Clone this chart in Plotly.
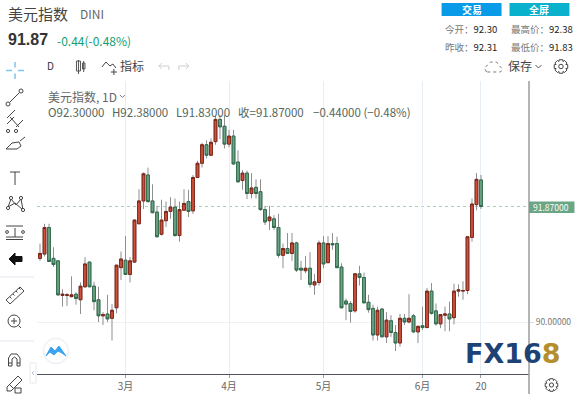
import math
import plotly.graph_objects as go

W, H = 575, 394
ML, MR, MT, MB = 37, 45.5, 81, 20
PW, PH = W - ML - MR, H - MT - MB

# ---- data ----
opens = [91.03,91.10,91.53,91.03,90.99,90.43,90.43,90.41,90.45,90.36,
         90.57,90.97,90.58,90.36,90.10,90.13,90.06,90.23,90.88,91.00,
         90.77,90.97,91.59,91.96,92.38,91.96,91.78,91.42,91.64,91.79,
         91.86,91.40,91.81,91.95,91.80,92.34,92.57,92.87,92.70,92.92,
         93.28,93.17,92.88,93.01,92.59,92.29,92.41,92.08,92.18,92.11,
         91.82,91.64,91.67,91.53,91.08,91.19,91.11,91.28,90.87,90.83,
         90.87,90.60,90.64,91.28,90.96,91.27,91.27,90.89,90.34,90.30,
         90.18,90.78,90.72,90.32,90.22,89.79,90.21,89.76,90.02,89.83,
         89.66,90.06,90.00,90.10,89.84,89.94,89.91,90.50,90.18,89.97,
         90.11,90.13,90.07,90.50,90.50,90.51,91.37,91.90,92.30]
highs = [91.27,91.59,91.59,91.21,90.99,90.53,90.47,90.74,90.48,90.64,
         91.05,90.97,90.65,90.57,90.16,90.44,90.29,90.92,91.14,91.39,
         91.05,91.66,92.15,92.42,92.50,92.23,91.88,91.98,91.95,92.02,
         92.00,91.95,92.15,92.14,92.38,92.61,92.90,92.94,92.97,93.34,
         93.35,93.35,93.11,93.11,92.78,92.46,92.45,92.41,92.31,92.31,
         91.88,91.88,91.73,91.75,91.27,91.44,91.44,91.30,90.99,91.07,
         91.13,90.78,91.32,91.39,91.39,91.44,91.38,90.95,90.38,90.34,
         90.79,90.91,90.80,90.44,90.28,90.25,90.22,90.16,90.11,89.95,
         90.13,90.13,90.45,90.13,89.94,90.25,90.55,90.63,90.30,90.12,
         90.25,90.33,90.62,90.61,90.66,91.38,92.00,92.41,92.38]
lows = [90.99,91.06,90.97,90.89,90.42,90.25,90.26,90.40,90.28,90.13,
        90.55,90.57,90.19,90.00,89.95,90.00,89.70,90.14,90.68,90.77,
        90.64,90.96,91.59,91.83,91.93,91.76,91.37,91.40,91.54,91.67,
        91.38,91.30,91.81,91.70,91.75,92.34,92.50,92.65,92.70,92.87,
        92.96,92.81,92.83,92.54,92.26,92.14,91.99,92.00,92.00,91.80,
        91.57,91.49,91.49,91.04,90.87,91.11,90.99,90.81,90.68,90.79,
        90.56,90.44,90.59,90.87,90.96,91.17,90.88,90.22,90.03,89.99,
        90.15,90.59,90.31,90.15,89.70,89.70,89.76,89.66,89.76,89.53,
        89.60,89.95,89.98,89.82,89.66,89.87,89.90,90.12,89.94,89.90,
        89.85,89.85,89.96,90.41,90.36,90.45,91.30,91.81,91.83]
closes = [91.11,91.53,90.98,90.93,90.44,90.45,90.44,90.44,90.38,90.58,
          90.94,90.57,90.33,90.10,90.12,90.05,90.19,90.92,91.02,90.77,
          90.99,91.65,91.96,92.40,91.95,91.77,91.38,91.65,91.79,91.86,
          91.40,91.82,91.92,91.79,92.34,92.57,92.87,92.70,92.91,93.28,
          93.16,92.88,93.01,92.56,92.27,92.41,92.08,92.17,92.08,91.82,
          91.62,91.70,91.53,91.08,91.19,91.11,91.28,90.84,90.84,90.87,
          90.61,90.65,91.28,90.94,91.27,91.25,90.88,90.23,90.29,90.17,
          90.78,90.72,90.31,90.20,89.79,90.19,89.76,90.03,89.83,89.66,
          90.06,90.00,90.06,89.84,89.93,89.91,90.50,90.14,89.97,90.12,
          90.13,90.05,90.50,90.52,90.51,91.38,91.91,92.31,91.87]
candle_index = list(range(len(opens)))
x_tick_index = [19, 42, 63, 85, 98]
x_tick_labels = ["3月", "4月", "5月", "6月", "20"]
y_tick_values = [90]
last_price = closes[-1]

RED, RED_EDGE = "#d1503a", "#7d2418"
GREEN, GREEN_EDGE = "#6aa585", "#2f6a4c"
WICK = "#8f8f8f"
CN = "Noto Sans CJK SC"

# ---- page helpers (page pixel -> paper, which is relative to the plot area) ----
px = lambda x: (x - ML) / PW
py = lambda y: 1 - (y - MT) / PH
shapes, annos = [], []

def seg(x0, y0, x1, y1, c="#444", w=1, dash=None):
    shapes.append(dict(type="line", xref="paper", yref="paper", x0=px(x0), x1=px(x1),
                       y0=py(y0), y1=py(y1), line=dict(color=c, width=w, dash=dash)))

def rect(x0, y0, x1, y1, fill, c=None, w=0):
    shapes.append(dict(type="rect", xref="paper", yref="paper", x0=px(x0), x1=px(x1),
                       y0=py(y0), y1=py(y1), fillcolor=fill, line=dict(color=c or fill, width=w)))

def circ(cx, cy, r, c="#444", w=1, fill="rgba(0,0,0,0)"):
    shapes.append(dict(type="circle", xref="paper", yref="paper", x0=px(cx - r), x1=px(cx + r),
                       y0=py(cy + r), y1=py(cy - r), fillcolor=fill, line=dict(color=c, width=w)))

def poly(points, c="#444", w=1, fill=None, close=False, dash=None):
    d = "M " + " L ".join(f"{px(a):.5f},{py(b):.5f}" for a, b in points) + (" Z" if close else "")
    s = dict(type="path", xref="paper", yref="paper", path=d, line=dict(color=c, width=w, dash=dash))
    if fill:
        s["fillcolor"] = fill
    shapes.append(s)

def text(x, y, t, size=12, color="#333", anchor="left", family=CN):
    annos.append(dict(xref="paper", yref="paper", x=px(x), y=py(y), text=t, showarrow=False,
                      xanchor=anchor, yanchor="middle", borderpad=0,
                      font=dict(size=size, color=color, family=family)))

def gear(cx, cy, r):
    pts = []
    for i in range(8):
        a = i * math.pi / 4
        for da, rr in ((-0.26, r), (0.26, r), (0.40, r * 0.76), (0.78 - 0.40, r * 0.76)):
            pts.append((cx + rr * math.cos(a + da), cy + rr * math.sin(a + da)))
    poly(pts, c="#444", w=1, close=True)
    circ(cx, cy, r * 0.32, c="#444", w=1)

def stat(x, y, label, value):
    text(x, y, f"<span style='color:#777'>{label}：</span><span style='color:#222'>{value}</span>", 9.5)

# ---- header ----
text(7, 13, "美元指数", 15, "#444")
text(79, 14, "DINI", 12, "#666")
text(7, 40, "<b>91.87</b>", 16, "#333", family="Liberation Sans")
text(56, 41, "-0.44(-0.48%)", 12, "#12a074")
rect(442, 3, 502, 16, "#0a9be8")
rect(510, 3, 570, 16, "#09b1cd")
text(472, 9.5, "<b>交易</b>", 10, "#fff", "center")
text(540, 9.5, "<b>全屏</b>", 10, "#fff", "center")
stat(444, 29, "今开", "92.30")
stat(510, 29, "最高价", "92.38")
stat(444, 47, "昨收", "92.31")
stat(510, 47, "最低价", "91.83")

# ---- top toolbar ----
text(51, 66, "D", 10, "#333", "center")
rect(76.5, 61, 80.5, 71, "#fff", "#555", 1)
seg(78.5, 60, 78.5, 74, "#555")
rect(82.5, 63, 85, 69, "#fff", "#555", 1)
seg(83.7, 61, 83.7, 72, "#555")
poly([(102, 67), (106, 62), (110, 66), (113, 64), (116, 68)], "#444", 1)
seg(114, 69, 114, 75, "#444")
seg(111, 72, 117, 72, "#444")
text(132, 66, "指标", 12, "#444", "center")
poly([(159, 66), (169, 66), (169, 70)], "#cfcfcf", 1)
poly([(162, 63), (159, 66), (162, 69)], "#cfcfcf", 1)
poly([(189, 66), (179, 66), (179, 70)], "#cfcfcf", 1)
poly([(186, 63), (189, 66), (186, 69)], "#cfcfcf", 1)
poly([(487, 72), (485, 68), (488, 65), (491, 62), (497, 62), (500, 66), (503, 69), (501, 72), (487, 72)],
     "#777", 1, dash="dot")
text(507, 66, "保存", 12, "#444")
poly([(536, 65), (539, 68), (542, 65)], "#555", 1)
gear(561.5, 66.5, 7)

# ---- left toolbar ----
B = "#444"
L = "#7cc4f0"
seg(6, 70.5, 12, 70.5, L, 1.5); seg(18, 70.5, 24, 70.5, L, 1.5)
seg(15, 62, 15, 67.5, L, 1.5); seg(15, 73.5, 15, 79, L, 1.5)
seg(9.5, 102.5, 19.5, 92.5, B); circ(8, 104, 2, B); circ(21, 91, 2, B)
seg(7, 124, 14, 117, B); seg(10, 117, 19, 127, B); seg(16, 127, 23, 120, B); seg(7, 118, 15, 110, B)
circ(8, 131, 1.6, B); circ(16, 131, 1.6, B)
poly([(6, 149), (12, 143), (19, 142), (21, 146), (17, 149), (6, 149)], B)
seg(20, 141, 25, 137, B)
seg(10, 172, 20, 172, B); seg(15, 172, 15, 185, B)
poly([(8, 207), (11, 199), (16, 205), (21, 199), (23, 210), (15, 203), (8, 207)], B)
for a, b in ((8, 208), (11, 198), (21, 198), (23, 210)):
    circ(a, b, 1.6, B, fill="#fff")
seg(6, 226, 23, 226, B); seg(6, 237, 23, 237, B); seg(6, 239.5, 23, 239.5, B)
seg(15, 228, 15, 237, B)
circ(7, 232, 1.4, B); circ(23, 232, 1.4, B)
poly([(9, 259), (15, 253), (15, 256.5), (22, 256.5), (22, 261.5), (15, 261.5), (15, 265), (9, 259)],
     "#111", 1, fill="#111", close=True)
seg(0, 277, 34, 277, "#e4e7ee")
poly([(6, 300), (20, 287), (24, 291), (10, 304), (6, 300)], B)
for a, b in ((10, 297), (13, 294), (16, 291), (19, 288)):
    seg(a, b, a + 1.5, b + 1.5, B)
circ(14, 321, 6, B); seg(18.5, 325.5, 21, 328, B)
seg(11, 321, 17, 321, B); seg(14, 318, 14, 324, B)
seg(0, 341, 34, 341, "#e4e7ee")
poly([(8.5, 366), (8.5, 358), (11, 354), (17, 354), (20, 358), (20, 366), (17, 366), (17, 359), (14.5, 357),
      (12, 359), (12, 366), (8.5, 366)], B)
seg(8.5, 363, 12, 363, B); seg(17, 363, 20, 363, B)
poly([(7, 387), (18, 376), (22, 380), (11, 391), (7, 391), (7, 387)], B)
seg(9, 384, 14, 389, B)
rect(15, 388, 21, 393, "#fff", B, 1)
# collapse tab
shapes.append(dict(type="rect", xref="paper", yref="paper", x0=px(30), x1=px(36), y0=py(383), y1=py(363),
                   fillcolor="#fff", line=dict(color="#e6e9ef", width=1)))
poly([(34, 371), (32, 373), (34, 375)], "#b7c9e4", 1)

# ---- chart chrome ----
seg(529.5, 81, 529.5, 394, "#9b9b9b", 1.5)
shapes.append(dict(type="line", xref="x", yref="y", x0=-0.67, x1=108.67, y0=last_price, y1=last_price,
                   line=dict(color="#a8cfb8", width=1, dash="dot"), layer="below"))
circ(56, 351, 12.5, "#eef1f4", 1.5, "#fff")
poly([(46, 356), (51, 347), (55, 351), (59, 346), (66, 356), (62, 353), (58, 351), (54, 355), (50, 352), (46, 356)],
     "#3ba3ef", 1, fill="#3ba3ef", close=True)
gear(552, 385, 6.5)
rect(529.5, 201.5, 575, 213, GREEN)
annos.append(dict(xref="paper", yref="y", x=px(552), y=last_price, text="91.87000", showarrow=False,
                  xanchor="center", yanchor="middle", borderpad=0,
                  font=dict(size=8.5, color="#fff", family=CN)))
text(47, 96, "美元指数, 1D", 12, "#666")
poly([(120, 95), (122.5, 97.5), (125, 95)], "#777", 1)
LEG = "#54675c"
for lx, t in ((47, "O92.30000"), (111, "H92.38000"), (175, "L91.83000"), (237, "收=91.87000"),
              (312, "−0.44000 (−0.48%)")):
    text(lx, 112, t, 11.5, LEG)
annos.append(dict(xref="paper", yref="paper", x=px(464), y=py(353),
                  text="<b><span style='color:#1d4276'>FX16</span><span style='color:#b68f2d'>8</span></b>",
                  showarrow=False, xanchor="left", yanchor="middle", borderpad=0,
                  font=dict(size=27, family="DejaVu Sans")))

# ---- candles: grey whiskers, then bodies with dark outlines ----
body_high = [max(a, b) for a, b in zip(opens, closes)]
body_low = [min(a, b) for a, b in zip(opens, closes)]
fig = go.Figure()
fig.add_trace(go.Candlestick(x=candle_index, open=opens, high=highs, low=lows, close=closes,
                             whiskerwidth=0, showlegend=False, hoverinfo="skip",
                             increasing=dict(line=dict(color=WICK, width=1), fillcolor=RED),
                             decreasing=dict(line=dict(color=WICK, width=1), fillcolor=GREEN)))
fig.add_trace(go.Candlestick(x=candle_index, open=opens, high=body_high, low=body_low, close=closes,
                             whiskerwidth=0, showlegend=False,
                             increasing=dict(line=dict(color=RED_EDGE, width=1), fillcolor=RED),
                             decreasing=dict(line=dict(color=GREEN_EDGE, width=1), fillcolor=GREEN)))
fig.update_layout(
    width=W, height=H, autosize=False, template=None,
    paper_bgcolor="#fff", plot_bgcolor="#fff", showlegend=False,
    margin=dict(l=ML, r=MR, t=MT, b=MB, pad=0),
    boxmode="overlay", boxgap=0.12,
    shapes=shapes, annotations=annos,
    font=dict(family=CN, size=11, color="#555"),
    xaxis=dict(range=[-0.67, 108.67], tickmode="array", tickvals=x_tick_index, ticktext=x_tick_labels,
               showgrid=True, gridcolor="#e6edf3", gridwidth=1, zeroline=False, rangeslider=dict(visible=False),
               showline=True, linecolor="#50535e", linewidth=1, ticks="outside", ticklen=3,
               tickcolor="#9aa0a8", tickfont=dict(size=10, color="#666", family=CN)),
    yaxis=dict(range=[89.158, 93.902], side="right", tickmode="array", tickvals=y_tick_values,
               tickformat=".5f", showgrid=True, gridcolor="#edf2f7", gridwidth=1, zeroline=False,
               showline=False, ticks="outside", ticklen=4, tickcolor="#d5dbe2",
               tickfont=dict(size=8.5, color="#777", family=CN)),
)
fig.write_html("out.html", config=dict(displayModeBar=False),
               post_script="document.body.style.margin='0';document.documentElement.style.overflow='hidden';")
